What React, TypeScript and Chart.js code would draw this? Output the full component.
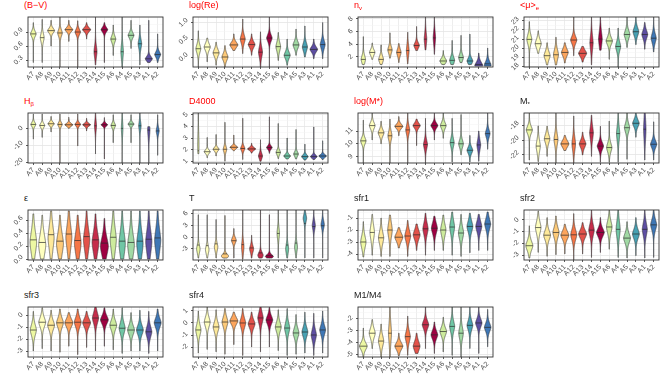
import React, { useEffect, useRef } from 'react';
import { Chart, registerables } from 'chart.js';
Chart.register(...registerables);

const FONT = '"Liberation Sans", Arial, Helvetica, sans-serif';

// categories (x order) and fill colours (reversed Spectral mapped to A1..A15)
const categories = ['A7', 'A8', 'A9', 'A10', 'A11', 'A12', 'A13', 'A14', 'A15', 'A6', 'A4', 'A5', 'A3', 'A1', 'A2'];
const fillColors = ['#EDF8A3', '#FFFFBF', '#FEE99A', '#FDCA79', '#FCA55D', '#F57647', '#E2524A', '#C52D4B', '#9E0142', '#CDEB9D', '#70C6A5', '#A1D9A4', '#48A1B3', '#5E4FA2', '#3F77B5'];

// ---- (B−V)
const rangeBV = [0.155, 1.22];
const ticksBV = [0.3, 0.6, 0.9];
const labelsBV = ['0.3', '0.6', '0.9'];
const medBV = [0.86, 0.78, 0.93, 0.88, 0.95, 0.90, 0.95, 0.48, 0.95, 0.75, 0.48, 0.83, 0.65, 0.33, 0.42];
const sprBV = [0.06, 0.09, 0.05, 0.07, 0.045, 0.06, 0.045, 0.12, 0.05, 0.07, 0.14, 0.06, 0.1, 0.05, 0.06];
const loBV = [0.25, 0.25, 0.6, 0.1, 0.7, 0.1, 0.75, 0.2, 0.25, 0.4, 0.1, 0.55, 0.2, 0.25, 0.25];
const hiBV = [1.1, 1.17, 1.15, 1.3, 1.15, 1.14, 1.1, 1.3, 1.1, 1.05, 1.3, 1.15, 1.05, 1.15, 0.86];

// ---- log(Re)
const rangeRe = [-0.29, 1.16];
const ticksRe = [0, 0.5, 1];
const labelsRe = ['0.0', '0.5', '1.0'];
const medRe = [0.24, 0.29, 0.12, 0.0, 0.35, 0.52, 0.36, 0.14, 0.55, 0.3, 0.05, 0.35, 0.29, 0.22, 0.36];
const sprRe = [0.12, 0.1, 0.1, 0.1, 0.08, 0.12, 0.09, 0.15, 0.1, 0.13, 0.1, 0.1, 0.12, 0.08, 0.12];
const loRe = [-0.35, -0.14, -0.24, -0.35, 0.19, 0.1, 0.05, -0.35, -0.35, -0.1, -0.24, 0.05, 0.0, -0.05, -0.05];
const hiRe = [0.76, 0.55, 0.43, 0.33, 0.67, 1.1, 0.67, 0.73, 1.3, 0.71, 0.52, 0.81, 0.9, 0.52, 1.0];

// ---- n_v
const rangeNv = [0.4, 8.3];
const ticksNv = [2, 4, 6, 8];
const labelsNv = ['2', '4', '6', '8'];
const medNv = [1.6, 2.7, 1.6, 3.1, 2.7, 3.0, 3.8, 4.8, 5.0, 1.35, 1.45, 1.9, 1.35, 0.8, 0.9];
const modeNv = [1.6, 2.7, 1.6, 3.1, 2.7, 3.0, 3.8, 4.8, 5.0, 1.35, 1.45, 1.9, 1.35, 0.6, 0.65];
const sprNv = [0.6, 0.45, 0.55, 0.55, 0.55, 0.9, 0.45, 1.0, 1.0, 0.4, 0.55, 0.55, 0.45, 0.55, 0.6];
const loNv = [0.8, 1.6, 0.8, 1.8, 1.1, 0.9, 3.0, 3.1, 2.4, 0.8, 0.8, 1.1, 0.8, 0.55, 0.55];
const hiNv = [5.2, 4.2, 3.9, 5.8, 4.1, 5.9, 6.8, 9, 9, 3.0, 4.6, 5.4, 5.6, 2.6, 3.4];

// ---- <μ>e
const rangeMu = [17.97, 23.4];
const ticksMu = [18, 19, 20, 21, 22, 23];
const labelsMu = ['18', '19', '20', '21', '22', '23'];
const medMu = [20.97, 20.5, 19.2, 19.3, 19.55, 20.9, 19.45, 20.6, 21.0, 20.8, 20.2, 21.5, 21.8, 21.5, 21.1];
const sprMu = [0.5, 0.45, 0.45, 0.55, 0.4, 0.4, 0.35, 0.8, 0.8, 0.4, 0.5, 0.45, 0.45, 0.45, 0.5];
const loMu = [17.9, 19.45, 18.2, 18.2, 18.4, 19.2, 18.5, 18.2, 19.8, 18.8, 17.9, 20.1, 20.4, 19.9, 19.6];
const hiMu = [22.9, 21.9, 20.6, 21.2, 20.6, 23.6, 20.2, 23.6, 23.6, 22.2, 22.2, 23.6, 23.6, 22.8, 23.6];

// ---- Hβ
const rangeHb = [-20.3, 9];
const ticksHb = [-20, -10, 0];
const labelsHb = ['-20', '-10', '0'];
const medHb = [2.3, 1.7, 2.7, 2.3, 2.1, 2.3, 2.1, 1.5, 2.1, 1.7, 0, 2.5, 1.5, -1, -1.5];
const sprHb = [1.2, 1.2, 1.0, 1.2, 0.8, 1.0, 0.8, 3, 0.8, 1.3, 4, 1.0, 2.5, 4, 2];
const loHb = [-6.3, -5.3, -2.1, -21, 0, -10.3, -1.5, -15, -17.9, -8.4, -21, -8.4, -21, -21, -15.8];
const hiHb = [8.4, 8.4, 7, 8.4, 6.5, 8.4, 5.9, 10, 6.3, 8, 10, 8, 10, 1, 8];

// ---- D4000
const rangeD4 = [0.85, 5.15];
const ticksD4 = [1, 2, 3, 4, 5];
const labelsD4 = ['1', '2', '3', '4', '5'];
const medD4 = [1.9, 1.82, 2.03, 2.03, 2.2, 2.1, 2.06, 1.45, 2.18, 1.76, 1.45, 1.62, 1.4, 1.4, 1.45];
const modeD4 = [2.4, 1.82, 2.03, 2.03, 2.2, 2.1, 2.06, 1.45, 2.18, 1.76, 1.45, 1.62, 1.4, 1.4, 1.45];
const sprD4 = [1.0, 0.15, 0.15, 0.25, 0.12, 0.2, 0.12, 0.25, 0.15, 0.2, 0.15, 0.2, 0.15, 0.13, 0.12];
const loD4 = [1.65, 1.3, 1.45, 1.0, 1.9, 1.15, 1.7, 1.0, 1.68, 1.23, 1.2, 1.2, 1.1, 1.15, 1.15];
const hiD4 = [5.3, 3.05, 3.3, 4.35, 3.25, 4.7, 2.55, 2.85, 4.82, 4.25, 3.0, 3.73, 2.47, 3.95, 2.76];

// ---- log(M*)
const rangeLM = [8.49, 12.42];
const ticksLM = [9, 10, 11];
const labelsLM = ['9', '10', '11'];
const medLM = [10.23, 11.43, 10.86, 10.63, 11.37, 11.09, 11.43, 9.94, 11.43, 11.43, 10.09, 10.0, 9.49, 9.91, 10.8];
const sprLM = [0.25, 0.25, 0.25, 0.35, 0.18, 0.35, 0.2, 0.35, 0.2, 0.25, 0.35, 0.3, 0.25, 0.4, 0.3];
const loLM = [8.3, 10.3, 10.0, 8.3, 10.63, 8.3, 9.86, 8.3, 10.3, 10.43, 8.57, 9.14, 8.57, 8.63, 9.57];
const hiLM = [11.86, 12.6, 11.77, 11.94, 12.14, 12.6, 11.94, 12.0, 12.6, 12.6, 12.0, 12.3, 10.66, 11.0, 12.43];

// ---- M*
const rangeMs = [-23.1, -16.3];
const ticksMs = [-22, -20, -18];
const labelsMs = ['-22', '-20', '-18'];
const medMs = [-18.6, -20.8, -19.8, -19.9, -20.5, -20.5, -20.5, -19.0, -20.8, -21.0, -19.1, -18.3, -17.7, -18.5, -20.55];
const sprMs = [0.5, 0.8, 0.6, 0.8, 0.45, 0.9, 0.5, 0.9, 0.5, 0.6, 1.0, 0.6, 0.5, 1.5, 0.5];
const loMs = [-22.7, -22.9, -22.2, -23.5, -21.4, -23.5, -22, -22.2, -23, -23, -23, -22.6, -19.6, -22.7, -22.7];
const hiMs = [-16, -18.05, -18.1, -16, -19.35, -16.7, -18.9, -16.6, -18.1, -17.4, -16, -16.3, -16, -16, -17.5];

// ---- ε
const rangeEps = [-0.01, 0.76];
const ticksEps = [0, 0.2, 0.4, 0.6];
const labelsEps = ['0.0', '0.2', '0.4', '0.6'];
const medEps = [0.30, 0.26, 0.38, 0.28, 0.39, 0.29, 0.35, 0.30, 0.25, 0.34, 0.28, 0.26, 0.28, 0.31, 0.33];
const modeEps = [0.26, 0.22, 0.33, 0.24, 0.34, 0.25, 0.30, 0.26, 0.2, 0.3, 0.24, 0.22, 0.24, 0.27, 0.29];
const sprEps = [0.17, 0.16, 0.18, 0.16, 0.18, 0.17, 0.17, 0.16, 0.14, 0.18, 0.18, 0.17, 0.18, 0.18, 0.18];
const loEps = [0.005, 0.005, 0.005, 0.005, 0.005, 0.005, 0.005, 0.005, 0.005, 0.005, 0.005, 0.005, 0.005, 0.005, 0.005];
const hiEps = [0.70, 0.68, 0.745, 0.68, 0.745, 0.68, 0.745, 0.70, 0.63, 0.745, 0.745, 0.745, 0.745, 0.745, 0.745];

// ---- T
const rangeT = [-5.8, 6.9];
const ticksT = [-3, 0, 3, 6];
const labelsT = ['-3', '0', '3', '6'];
const medT = [-2.0, -2.15, -1.7, -4.25, -0.9, -1.9, -2.75, -4.0, -4.7, 0.95, -2.0, -1.5, 3.5, 2.7, 2.9];
const modeT = [-3.0, -3.2, -2.5, -4.8, -0.8, -2.5, -3.0, -4.6, -4.9, 1.0, -3.0, -2.5, 4.8, 3.0, 3.2];
const sprT = [1.0, 1.0, 1.0, 0.5, 0.7, 1.5, 0.9, 0.7, 0.45, 1.4, 1.2, 1.2, 1.0, 1.1, 1.0];
const loT = [-5.3, -5.3, -5.3, -5.3, -5.3, -5.6, -5.3, -5.3, -5.3, -5.3, -5.3, -5.3, -5.3, -5.3, -5.3];
const hiT = [5.7, 5.7, 4.5, 5.5, 2.2, 7, 0.5, 7, 5.7, 7, 7, 7, 7, 7, 7];

// ---- sfr1
const rangeS1 = [-4.5, -0.33];
const ticksS1 = [-4, -3, -2, -1];
const labelsS1 = ['-4', '-3', '-2', '-1'];
const medS1 = [-3.0, -2.2, -2.65, -2.0, -2.6, -2.5, -2.4, -1.9, -1.85, -2.0, -1.75, -2.25, -1.7, -1.7, -1.5];
const sprS1 = [0.5, 0.6, 0.5, 0.6, 0.35, 0.45, 0.4, 0.5, 0.45, 0.5, 0.55, 0.5, 0.45, 0.45, 0.45];
const loS1 = [-4.25, -4.1, -4.2, -4.2, -3.5, -4.2, -3.7, -4.1, -3.7, -3.7, -4.1, -4.2, -3.9, -3.7, -3.7];
const hiS1 = [-1.3, -0.7, -1.0, -0.75, -1.8, -1.2, -1.5, -0.6, -0.85, -0.75, -0.5, -0.7, -0.6, -0.7, -0.5];

// ---- sfr2
const rangeS2 = [-3.42, 0.85];
const ticksS2 = [-3, -2, -1, 0];
const labelsS2 = ['-3', '-2', '-1', '0'];
const medS2 = [-2.2, -0.65, -1.3, -1.07, -1.3, -1.27, -1.2, -0.87, -1.07, -0.6, -0.8, -1.55, -1.2, -0.8, -0.42];
const sprS2 = [0.4, 0.5, 0.4, 0.45, 0.35, 0.45, 0.35, 0.5, 0.35, 0.5, 0.7, 0.4, 0.4, 0.55, 0.45];
const loS2 = [-3.25, -2.77, -3.1, -2.97, -2.9, -3.5, -2.9, -3.2, -2.77, -2.5, -3.2, -3.25, -3.05, -3.25, -3.2];
const hiS2 = [-0.5, 0.76, 0.2, 0.34, -0.37, 0.54, -0.23, 0.9, 0.2, 0.9, 0.9, -0.15, 0.2, 0.9, 0.9];

// ---- sfr3
const rangeS3 = [-3.5, 0.67];
const ticksS3 = [-3, -2, -1, 0];
const labelsS3 = ['-3', '-2', '-1', '0'];
const medS3 = [-1.25, -0.6, -0.85, -0.65, -0.65, -0.6, -0.65, -0.25, -0.4, -0.85, -1.1, -1.25, -1.25, -1.4, -0.65];
const sprS3 = [0.45, 0.4, 0.4, 0.4, 0.35, 0.4, 0.35, 0.45, 0.35, 0.4, 0.45, 0.4, 0.4, 0.45, 0.4];
const loS3 = [-3.0, -2.8, -3.0, -3.1, -2.6, -3.3, -2.7, -3.0, -2.6, -2.9, -3.2, -3.0, -3.0, -3.2, -3.0];
const hiS3 = [0.3, 0.6, 0.4, 0.5, 0.2, 0.5, 0.3, 0.8, 0.6, 0.5, 0.6, 0.2, 0.4, 0.3, 0.5];

// ---- sfr4
const rangeS4 = [-2.83, 1.33];
const ticksS4 = [-2, -1, 0, 1];
const labelsS4 = ['-2', '-1', '0', '1'];
const medS4 = [-0.58, 0.08, -0.33, 0.08, 0.17, 0.0, -0.08, 0.42, 0.25, -0.33, -0.42, -0.83, -0.75, -1.0, -0.58];
const sprS4 = [0.45, 0.4, 0.4, 0.4, 0.3, 0.4, 0.35, 0.45, 0.35, 0.4, 0.45, 0.4, 0.4, 0.45, 0.4];
const loS4 = [-2.5, -2.2, -2.4, -2.6, -1.8, -2.7, -2.0, -2.4, -2.0, -2.3, -2.7, -2.6, -2.5, -2.7, -2.5];
const hiS4 = [1.0, 1.4, 1.1, 1.2, 0.9, 1.2, 0.9, 1.4, 1.3, 1.1, 1.2, 0.7, 0.9, 0.8, 1.0];

// ---- M1/M4
const rangeM14 = [-5.2, -1.0];
const ticksM14 = [-5, -4, -3, -2];
const labelsM14 = ['-5', '-4', '-3', '-2'];
const medM14 = [-4.29, -3.2, -3.86, -3.2, -4.29, -3.49, -4.29, -2.49, -3.34, -3.06, -2.63, -3.2, -2.54, -2.34, -2.71];
const sprM14 = [0.3, 0.4, 0.45, 0.8, 0.3, 0.45, 0.4, 0.35, 0.35, 0.35, 0.45, 0.5, 0.4, 0.35, 0.35];
const loM14 = [-5.3, -4.49, -5.3, -5.3, -5.1, -5.06, -4.9, -4.49, -4.9, -4.77, -5.06, -5.3, -4.49, -4.9, -4.34];
const hiM14 = [-2.77, -2.06, -2.43, -0.9, -3.2, -1.77, -3.2, -0.9, -2.26, -1.86, -0.9, -0.9, -0.9, -0.9, -1.2];

type Spec = {
  title: string; sub: string; red: boolean;
  range: number[]; ticks: number[]; labels: string[];
  med: number[]; spread: number[]; lo: number[]; hi: number[]; mode?: number[];
};

const specs: Spec[] = [
  { title: '(B\u2212V)', sub: '', red: true, range: rangeBV, ticks: ticksBV, labels: labelsBV, med: medBV, spread: sprBV, lo: loBV, hi: hiBV },
  { title: 'log(Re)', sub: '', red: true, range: rangeRe, ticks: ticksRe, labels: labelsRe, med: medRe, spread: sprRe, lo: loRe, hi: hiRe },
  { title: 'n', sub: 'v', red: true, range: rangeNv, ticks: ticksNv, labels: labelsNv, med: medNv, mode: modeNv, spread: sprNv, lo: loNv, hi: hiNv },
  { title: '<\u03bc>', sub: 'e', red: true, range: rangeMu, ticks: ticksMu, labels: labelsMu, med: medMu, spread: sprMu, lo: loMu, hi: hiMu },
  { title: 'H', sub: '\u03b2', red: true, range: rangeHb, ticks: ticksHb, labels: labelsHb, med: medHb, spread: sprHb, lo: loHb, hi: hiHb },
  { title: 'D4000', sub: '', red: true, range: rangeD4, ticks: ticksD4, labels: labelsD4, med: medD4, mode: modeD4, spread: sprD4, lo: loD4, hi: hiD4 },
  { title: 'log(M*)', sub: '', red: true, range: rangeLM, ticks: ticksLM, labels: labelsLM, med: medLM, spread: sprLM, lo: loLM, hi: hiLM },
  { title: 'M', sub: '*', red: false, range: rangeMs, ticks: ticksMs, labels: labelsMs, med: medMs, spread: sprMs, lo: loMs, hi: hiMs },
  { title: '\u03b5', sub: '', red: false, range: rangeEps, ticks: ticksEps, labels: labelsEps, med: medEps, mode: modeEps, spread: sprEps, lo: loEps, hi: hiEps },
  { title: 'T', sub: '', red: false, range: rangeT, ticks: ticksT, labels: labelsT, med: medT, mode: modeT, spread: sprT, lo: loT, hi: hiT },
  { title: 'sfr1', sub: '', red: false, range: rangeS1, ticks: ticksS1, labels: labelsS1, med: medS1, spread: sprS1, lo: loS1, hi: hiS1 },
  { title: 'sfr2', sub: '', red: false, range: rangeS2, ticks: ticksS2, labels: labelsS2, med: medS2, spread: sprS2, lo: loS2, hi: hiS2 },
  { title: 'sfr3', sub: '', red: false, range: rangeS3, ticks: ticksS3, labels: labelsS3, med: medS3, spread: sprS3, lo: loS3, hi: hiS3 },
  { title: 'sfr4', sub: '', red: false, range: rangeS4, ticks: ticksS4, labels: labelsS4, med: medS4, spread: sprS4, lo: loS4, hi: hiS4 },
  { title: 'M1/M4', sub: '', red: false, range: rangeM14, ticks: ticksM14, labels: labelsM14, med: medM14, spread: sprM14, lo: loM14, hi: hiM14 },
];

const PANEL_LEFT = [28, 193, 358, 524];
const PANEL_TOP = [17, 113, 210, 307];
const PW = 135;
const PH = 50;
const PAD_L = 30;
const PAD_T = 6;
const PAD_R = 5;
const PAD_B = 24;
const RED = '#ff0000';
const AXIS_TEXT = '#4d4d4d';

function gridValues(min: number, max: number, majors: number[]) {
  const step = (majors[1] - majors[0]) / 2;
  const out: number[] = [];
  let start = majors[0];
  while (start - step >= min - 1e-9) start -= step;
  for (let v = start; v <= max + 1e-9; v += step) out.push(+v.toFixed(6));
  return out;
}

function makePlugin(spec: Spec) {
  return {
    id: 'violins',
    afterDatasetsDraw(chart: any) {
      const { ctx, chartArea: a } = chart;
      const xs = chart.scales.x;
      const ys = chart.scales.y;
      const shapes: any[] = [];
      let maxD = 0;
      for (let i = 0; i < categories.length; i++) {
        const lo = spec.lo[i];
        const hi = spec.hi[i];
        const m = spec.mode ? spec.mode[i] : spec.med[i];
        const s = spec.spread[i];
        const f = (v: number) => Math.exp(-0.5 * Math.pow(Math.abs(v - m) / s, 1.6)) + 0.03;
        const N = 200;
        const pts: number[][] = [];
        let area = 0;
        let peak = 0;
        for (let k = 0; k <= N; k++) {
          const v = lo + ((hi - lo) * k) / N;
          const d = f(v);
          pts.push([v, d]);
          area += (d * (hi - lo)) / N;
          if (d > peak) peak = d;
        }
        maxD = Math.max(maxD, peak / area);
        shapes.push({ pts, area, f });
      }
      const half = Math.abs(xs.getPixelForValue(0.45) - xs.getPixelForValue(0));
      ctx.save();
      ctx.beginPath();
      ctx.rect(a.left, a.top, a.right - a.left, a.bottom - a.top);
      ctx.clip();
      ctx.lineJoin = 'round';
      shapes.forEach((sh, i) => {
        const cx = xs.getPixelForValue(i);
        const sc = half / (sh.area * maxD);
        ctx.beginPath();
        sh.pts.forEach(([v, d]: number[], k: number) => {
          const px = cx - d * sc;
          const py = ys.getPixelForValue(v);
          if (k === 0) ctx.moveTo(px, py);
          else ctx.lineTo(px, py);
        });
        for (let k = sh.pts.length - 1; k >= 0; k--) {
          const [v, d] = sh.pts[k];
          ctx.lineTo(cx + d * sc, ys.getPixelForValue(v));
        }
        ctx.closePath();
        ctx.fillStyle = fillColors[i];
        ctx.fill();
        ctx.strokeStyle = '#333333';
        ctx.lineWidth = 0.6;
        ctx.stroke();
        const md = spec.med[i];
        const w = sh.f(md) * sc;
        const my = ys.getPixelForValue(md);
        ctx.beginPath();
        ctx.moveTo(cx - w, my);
        ctx.lineTo(cx + w, my);
        ctx.lineWidth = 0.7;
        ctx.strokeStyle = '#2a2a2a';
        ctx.stroke();
      });
      ctx.restore();
    },
    afterDraw(chart: any) {
      const { ctx, chartArea: a } = chart;
      const ys = chart.scales.y;
      ctx.save();
      ctx.strokeStyle = '#333333';
      ctx.lineWidth = 0.9;
      ctx.strokeRect(a.left, a.top, a.right - a.left, a.bottom - a.top);
      // rotated y tick labels (angle 45°, right-justified, centred on the tick)
      ctx.font = `7px ${FONT}`;
      ctx.fillStyle = AXIS_TEXT;
      ctx.textAlign = 'center';
      ctx.textBaseline = 'middle';
      const c = Math.SQRT1_2;
      spec.ticks.forEach((t, k) => {
        const label = spec.labels[k];
        const w = ctx.measureText(label).width;
        const bw = (w + 6) * c;
        const py = ys.getPixelForValue(t);
        const px = a.left - 4 - bw / 2;
        ctx.save();
        ctx.translate(px, py);
        ctx.rotate(-Math.PI / 4);
        ctx.fillText(label, 0, 0);
        ctx.restore();
      });
      ctx.restore();
    },
  };
}

function Panel({ spec, idx }: { spec: Spec; idx: number }) {
  const ref = useRef<HTMLCanvasElement>(null);
  const col = idx % 4;
  const row = Math.floor(idx / 4);
  const L = PANEL_LEFT[col];
  const T = PANEL_TOP[row];
  const cw = PAD_L + PW + PAD_R;
  const ch = PAD_T + PH + PAD_B;

  useEffect(() => {
    const majors = spec.ticks;
    const isMajor = (v: any) => typeof v === 'number' && majors.some((t) => Math.abs(t - v) < 1e-6);
    const gv = gridValues(spec.range[0], spec.range[1], majors);
    const chart = new Chart(ref.current as HTMLCanvasElement, {
      type: 'scatter',
      data: {
        datasets: [
          {
            data: spec.med.map((m, i) => ({ x: i, y: m })),
            pointRadius: 0,
            showLine: false,
          },
        ],
      },
      plugins: [makePlugin(spec)],
      options: {
        animation: false,
        responsive: false,
        events: [],
        layout: { padding: { left: 0, top: PAD_T, right: PAD_R, bottom: 0 } },
        plugins: { legend: { display: false }, tooltip: { enabled: false }, title: { display: false } },
        scales: {
          x: {
            type: 'linear',
            min: -0.6,
            max: 14.6,
            afterBuildTicks: (s: any) => {
              s.ticks = categories.map((_, i) => ({ value: i }));
            },
            afterFit: (s: any) => {
              s.height = PAD_B;
            },
            ticks: {
              autoSkip: false,
              minRotation: 45,
              maxRotation: 45,
              padding: 1,
              font: { size: 7, family: FONT },
              color: AXIS_TEXT,
              callback: (_v: any, i: number) => categories[i],
            },
            grid: { color: '#e9e9e9', lineWidth: 0.8, tickColor: '#333333', tickLength: 2, drawTicks: true },
            border: { display: false },
          },
          y: {
            type: 'linear',
            min: spec.range[0],
            max: spec.range[1],
            afterBuildTicks: (s: any) => {
              s.ticks = gv.map((v) => ({ value: v }));
            },
            afterFit: (s: any) => {
              s.width = PAD_L;
            },
            ticks: { display: false },
            grid: {
              color: (c: any) => (isMajor(c.tick && c.tick.value) ? '#e4e4e4' : '#f3f3f3'),
              lineWidth: (c: any) => (isMajor(c.tick && c.tick.value) ? 0.8 : 0.5),
              tickColor: (c: any) => (isMajor(c.tick && c.tick.value) ? '#333333' : 'rgba(0,0,0,0)'),
              tickLength: 2,
              drawTicks: true,
            },
            border: { display: false },
          },
        },
      } as any,
    });
    return () => chart.destroy();
  }, []);

  return (
    <>
      <canvas
        ref={ref}
        width={cw}
        height={ch}
        style={{ position: 'absolute', left: L - PAD_L, top: T - PAD_T, width: cw, height: ch }}
      />
      <div
        style={{
          position: 'absolute',
          left: L - 4,
          top: T - 17,
          font: `9px ${FONT}`,
          lineHeight: '11px',
          color: spec.red ? RED : '#1a1a1a',
          whiteSpace: 'nowrap',
        }}
      >
        {spec.title}
        {spec.sub ? (
          <sub style={{ fontSize: '6px', verticalAlign: '-2px', lineHeight: '6px' }}>{spec.sub}</sub>
        ) : null}
      </div>
    </>
  );
}

export default function App() {
  return (
    <div
      style={{
        position: 'fixed',
        left: 0,
        top: 0,
        width: 664,
        height: 388,
        background: '#ffffff',
        overflow: 'hidden',
      }}
    >
      {specs.map((s, i) => (
        <Panel key={i} spec={s} idx={i} />
      ))}
    </div>
  );
}
